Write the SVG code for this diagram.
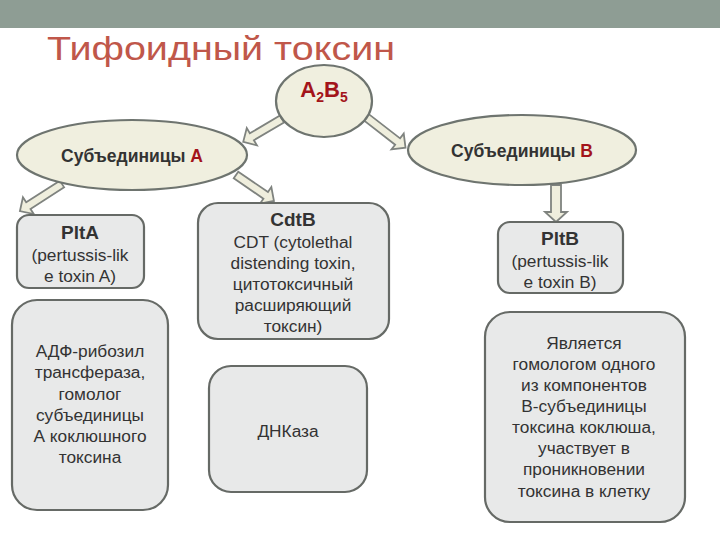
<svg xmlns="http://www.w3.org/2000/svg" width="720" height="540" viewBox="0 0 720 540">
<style>
.box{fill:#e8e9e9;stroke:#666a66;stroke-width:2.2}
.ell{fill:#f0efdf;stroke:#6e746f;stroke-width:2.2}
.arr{fill:#efeedd;stroke:#7f837f;stroke-width:1.8;stroke-linejoin:miter}
text{font-family:"Liberation Sans",Arial,sans-serif;fill:#333;text-anchor:middle}
.t{font-size:17.3px}
.b{font-size:19px;font-weight:bold}
.e{font-size:17.5px;font-weight:bold}
.red{fill:#a3141a}
</style>
<rect x="0" y="0" width="720" height="28" fill="#8e9d94"/>
<text x="47" y="60" style="font-size:34px;fill:#c0574a;text-anchor:start" textLength="348" lengthAdjust="spacingAndGlyphs">Тифоидный токсин</text>
<g id="connectors">
<polygon class="arr" transform="translate(282,119) rotate(149.5)" points="0,-4 35,-4 35,-10 45,0 35,10 35,4 0,4"/>
<polygon class="arr" transform="translate(366,117) rotate(37.8)" points="0,-4 40,-4 40,-10 50,0 40,10 40,4 0,4"/>
<polygon class="arr" transform="translate(62,184) rotate(147.3)" points="0,-4 40,-4 40,-10 50,0 40,10 40,4 0,4"/>
<polygon class="arr" transform="translate(236,175) rotate(34.4)" points="0,-4 36,-4 36,-10 46,0 36,10 36,4 0,4"/>
<polygon class="arr" transform="translate(556,185) rotate(90)" points="0,-5 27,-5 27,-11 37,0 27,11 27,5 0,5"/>
</g>
<g id="a2b5">
<ellipse class="ell" cx="324" cy="101" rx="48" ry="36"/>
<text x="324" y="97" style="font-size:22px;font-weight:bold" class="red">A<tspan font-size="14" dy="5">2</tspan><tspan dy="-5">B</tspan><tspan font-size="14" dy="5">5</tspan></text>
</g>
<g id="subA">
<ellipse class="ell" cx="132" cy="155" rx="115" ry="35"/>
<text x="132" y="162" class="e">Субъединицы <tspan class="red">A</tspan></text>
</g>
<g id="subB">
<ellipse class="ell" cx="522" cy="150" rx="114" ry="35"/>
<text x="522" y="157" class="e">Субъединицы <tspan class="red">B</tspan></text>
</g>
<g id="plta">
<rect class="box" x="17" y="215" width="127" height="73" rx="12"/>
<text x="80" y="239" class="b">PltA</text>
<text x="80" y="261" class="t">(pertussis-lik</text>
<text x="80" y="282" class="t">e toxin A)</text>
</g>
<g id="cdtb">
<rect class="box" x="198" y="203" width="191" height="136" rx="20"/>
<text x="293" y="226" class="b">CdtB</text>
<text x="293" y="248" class="t">CDT (cytolethal</text>
<text x="293" y="269" class="t">distending toxin,</text>
<text x="293" y="290" class="t">цитотоксичный</text>
<text x="293" y="311" class="t">расширяющий</text>
<text x="293" y="332" class="t">токсин)</text>
</g>
<g id="pltb">
<rect class="box" x="498" y="222" width="125" height="71" rx="12"/>
<text x="560" y="245" class="b">PltB</text>
<text x="560" y="267" class="t">(pertussis-lik</text>
<text x="560" y="288" class="t">e toxin B)</text>
</g>
<g id="adp">
<rect class="box" x="12" y="300" width="156" height="210" rx="25"/>
<text x="90" y="357" class="t">АДФ-рибозил</text>
<text x="90" y="378" class="t">трансфераза,</text>
<text x="90" y="400" class="t">гомолог</text>
<text x="90" y="421" class="t">субъединицы</text>
<text x="90" y="442" class="t">А коклюшного</text>
<text x="90" y="463" class="t">токсина</text>
</g>
<g id="dnk">
<rect class="box" x="209" y="366" width="158" height="126" rx="22"/>
<text x="288" y="437" class="t">ДНКаза</text>
</g>
<g id="plb-desc">
<rect class="box" x="485" y="312" width="200" height="210" rx="25"/>
<text x="584" y="349" class="t">Является</text>
<text x="584" y="370" class="t">гомологом одного</text>
<text x="584" y="391" class="t">из компонентов</text>
<text x="584" y="412" class="t">В-субъединицы</text>
<text x="584" y="433" class="t">токсина коклюша,</text>
<text x="584" y="454" class="t">участвует в</text>
<text x="584" y="475" class="t">проникновении</text>
<text x="584" y="497" class="t">токсина в клетку</text>
</g>
</svg>
